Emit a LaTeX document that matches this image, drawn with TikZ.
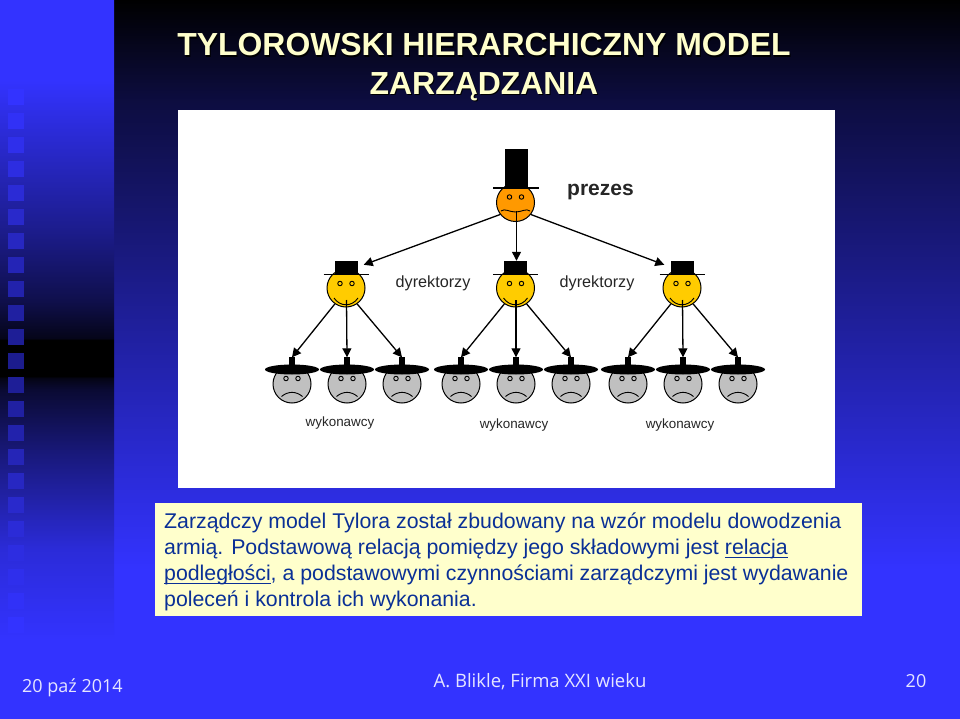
\documentclass[tikz,border=0pt]{standalone}
\usepackage{fontspec}
\setmainfont{Liberation Sans}
\newfontfamily\footfont{Open Sans}
\usetikzlibrary{positioning,shapes,arrows,arrows.meta}
\definecolor{stripblue}{HTML}{3333FF}
\definecolor{bodyblue}{HTML}{0A3096}
\definecolor{notebox}{HTML}{FFFFCC}
\definecolor{titlecream}{HTML}{FFFFCC}
\definecolor{presorange}{HTML}{FF9900}
\definecolor{dirgold}{HTML}{FFCC00}
\definecolor{workgray}{HTML}{C0C0C0}
\pgfdeclareverticalshading{mainbg}{100bp}{color(0bp)=(stripblue); color(35.4bp)=(stripblue); color(68bp)=(stripblue!25!black); color(75bp)=(black); color(100bp)=(black)}
\pgfdeclareverticalshading{stripbg}{100bp}{color(0bp)=(stripblue); color(30.5bp)=(stripblue); color(36.75bp)=(stripblue!85!black); color(43.15bp)=(stripblue!50!black); color(47.9bp)=(stripblue!20!black); color(48.7bp)=(stripblue!8!black); color(48.85bp)=(black); color(51.35bp)=(black); color(51.5bp)=(stripblue!10!black); color(54.15bp)=(stripblue!30!black); color(59bp)=(stripblue!55!black); color(69.45bp)=(stripblue); color(100bp)=(stripblue)}
\newcommand{\ulword}[1]{\setbox0\hbox{#1}\rlap{\vrule height -2pt depth 3.2pt width \wd0}\box0}
\tikzset{
    face/.style={draw=black, circle, inner sep=0pt, line width=1pt, minimum size=#1},
    eye/.style={draw=black, circle, inner sep=0pt, line width=0.9pt, minimum size=4.5pt},
    hat/.style={fill=black, inner sep=0pt},
    boss/.style={-{Triangle[length=9pt,width=9pt]}, line width=1.3pt},
    lab/.style={font=\fontsize{16.2}{18}\selectfont, text=black!85},
    worklab/.style={font=\fontsize{13.4}{15}\selectfont, text=black!85},
    footer/.style={text=white!90!blue, inner sep=0pt, font=\footfont\fontsize{18}{20}\selectfont},
    titletext/.style={align=center, font=\bfseries\fontsize{31.9}{38.5}\selectfont},
}
\begin{document}
\begin{tikzpicture}[x=1pt,y=-1pt]
    \useasboundingbox (0,0) rectangle (960,719);
    % background
    \fill[shading=mainbg] (114,0) rectangle (960,719);
    \fill[shading=stripbg] (0,0) rectangle (114,719);
    \foreach \ii in {0,...,26}{
        \pgfmathsetmacro\yy{17+24*\ii}
        \pgfmathsetmacro\ff{min(1,0.55+0.45*abs(\yy+8-360)/260)}
        \pgfmathsetmacro\rr{0.2*\ff}
        \definecolor{squarecolor}{rgb}{\rr,\rr,\ff};
        \fill[squarecolor] (8,\yy) rectangle (24,\yy+16);
    }
    % title
    \node[titletext, text=black] (titleshadow) at (485,68.5)
        {TYLOROWSKI HIERARCHICZNY MODEL\\ZARZĄDZANIA};
    \node[titletext, text=titlecream] (title) at (484,67)
        {TYLOROWSKI HIERARCHICZNY MODEL\\ZARZĄDZANIA};
    % panel
    \fill[white] (178,110) rectangle (835,488);
    % president
    \node[face=38pt, fill=presorange] (pres) at (515.5,202.5){};
    \node[hat, minimum width=23pt, minimum height=39pt] (preshat) at (516.5,168.5){};
    \draw[line width=1.5pt] (493,188) -- (539,188);
    \node[eye, fill=presorange] (preseye1) at (509.5,197){};
    \node[eye, fill=presorange] (preseye2) at (521.5,197){};
    \draw[line width=0.9pt] (501,211) .. controls (505,208) and (509,212) .. (515.5,212) .. controls (522,212) and (526,208) .. (530,211);
    \node[font=\bfseries\fontsize{21}{24}\selectfont, text=black!85, inner sep=0pt, anchor=west] (preslab) at (567,192) {prezes};
    % directors
    \foreach \nn/\xx in {1/346, 2/515.5, 3/682}{
        \node[face=38pt, fill=dirgold] (dir\nn) at (\xx,288){};
        \node[hat, minimum width=23pt, minimum height=13pt] (dirhat\nn) at (\xx,267.5){};
        \draw[line width=1.5pt] (\xx-22.5,274.5) -- (\xx+22.5,274.5);
        \node[eye, fill=dirgold] (dirleft\nn) at (\xx-6,283.5){};
        \node[eye, fill=dirgold] (dirright\nn) at (\xx+6,283.5){};
        \draw[line width=0.9pt] (\xx-12,298) .. controls (\xx-6,307) and (\xx+6,307) .. (\xx+12,298);
    }
    \node[lab] (dirlab1) at (433,283) {dyrektorzy};
    \node[lab] (dirlab2) at (597,283) {dyrektorzy};
    \draw[boss] (pres.218) -- ([xshift=6pt,yshift=-4pt]dirhat1.north east);
    \draw[boss] ([xshift=1pt,yshift=-9pt]pres.center) -- ([xshift=1pt]dirhat2.north);
    \draw[boss] (pres.322) -- ([xshift=-6pt,yshift=-4pt]dirhat3.north west);
    % workers
    \foreach \nn/\xx in {1/292, 2/347, 3/402, 4/461, 5/516, 6/571, 7/628, 8/683, 9/738}{
        \node[face=38pt, fill=workgray] (work\nn) at (\xx,384){};
        \node[hat, minimum width=6pt, minimum height=9pt] (workhat\nn) at (\xx,361){};
        \node[hat, ellipse, minimum width=54pt, minimum height=10pt] (workbrim\nn) at (\xx,369.5){};
        \node[eye, fill=workgray] (workleft\nn) at (\xx-6,378.5){};
        \node[eye, fill=workgray] (workright\nn) at (\xx+6,378.5){};
        \draw[line width=0.9pt] (\xx-10.5,396.5) .. controls (\xx-4,391) and (\xx+4,391) .. (\xx+10.5,396.5);
    }
    \foreach \dd/\aa/\bb/\cc in {1/1/2/3, 2/4/5/6, 3/7/8/9}{
        \draw[boss] (dir\dd.235) -- ([yshift=-1pt]workhat\aa.north);
        \draw[boss] ([xshift=0.5pt,yshift=-12pt]dir\dd.center) -- ([yshift=-1pt]workhat\bb.north);
        \draw[boss] (dir\dd.305) -- ([yshift=-1pt]workhat\cc.north);
    }
    \node[worklab] (worklab1) at (340,423.5) {wykonawcy};
    \node[worklab] (worklab2) at (514,425) {wykonawcy};
    \node[worklab] (worklab3) at (680,425) {wykonawcy};
    % note
    \fill[notebox] (155,503) rectangle (862,616);
    \node[anchor=north west, align=left, inner sep=0pt, text=bodyblue, font=\fontsize{21.3}{26}\selectfont] (note) at (164,513)
        {Zarządczy model Tylora został zbudowany na wzór modelu dowodzenia\\
        armią. Podstawową relacją pomiędzy jego składowymi jest \ulword{relacja}\\
        \ulword{podległości}, a podstawowymi czynnościami zarządczymi jest wydawanie\\
        poleceń i kontrola ich wykonania.};
    % footer
    \node[footer, anchor=west] (datelab) at (22,688) {20 paź 2014};
    \node[footer, font=\footfont\fontsize{18.5}{20}\selectfont] (footlab) at (540,682) {A. Blikle, Firma XXI wieku};
    \node[footer] (pagelab) at (916,681) {20};
\end{tikzpicture}
\end{document}
